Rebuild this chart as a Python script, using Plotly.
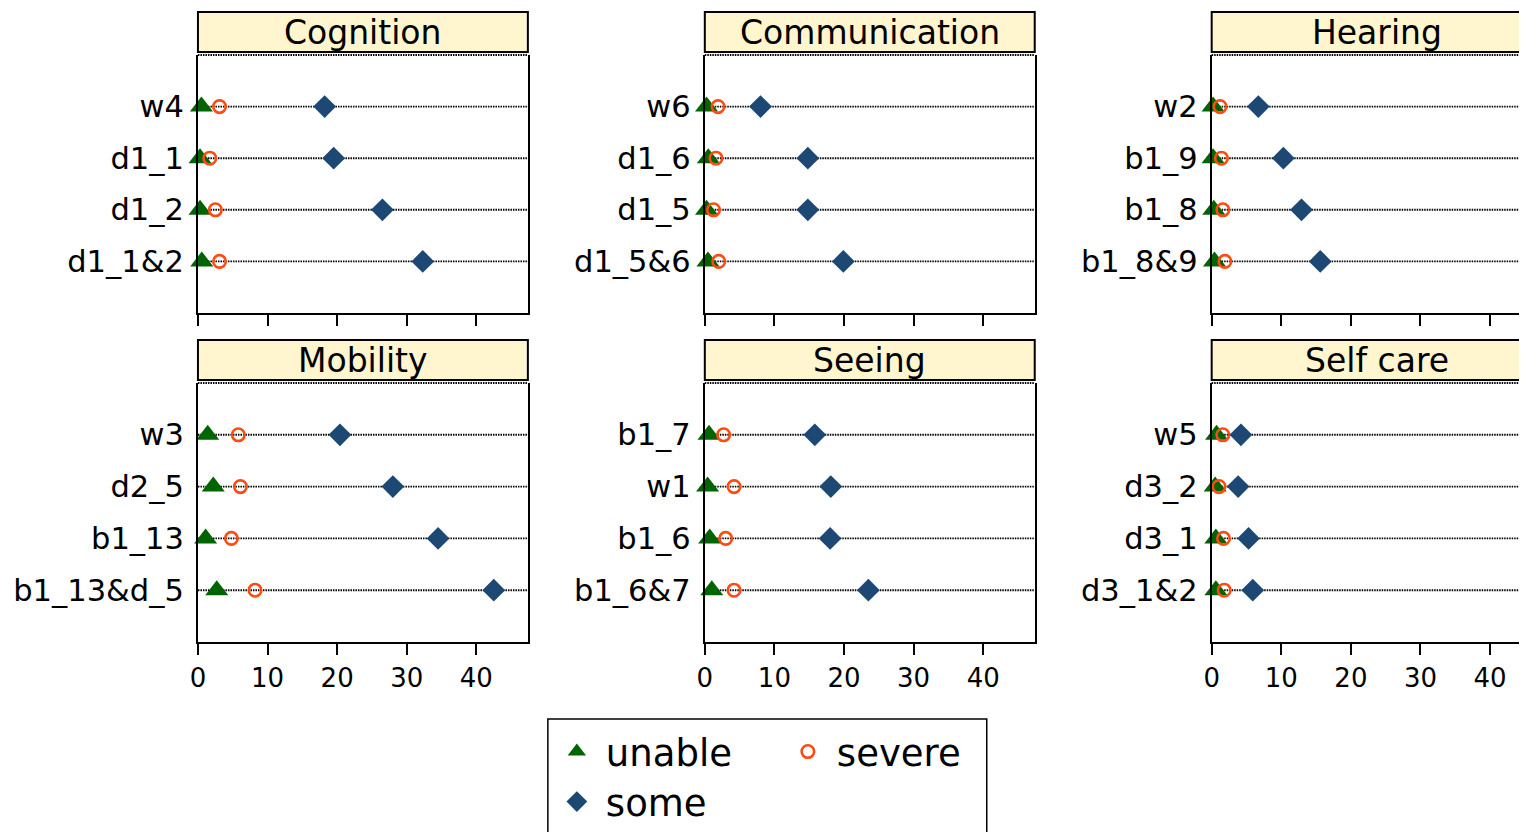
import plotly.graph_objects as go

# ---------------- data ----------------
panels = ["Cognition", "Communication", "Hearing", "Mobility", "Seeing", "Self care"]

labels_cognition = ["w4", "d1_1", "d1_2", "d1_1&2"]
labels_communication = ["w6", "d1_6", "d1_5", "d1_5&6"]
labels_hearing = ["w2", "b1_9", "b1_8", "b1_8&9"]
labels_mobility = ["w3", "d2_5", "b1_13", "b1_13&d_5"]
labels_seeing = ["b1_7", "w1", "b1_6", "b1_6&7"]
labels_selfcare = ["w5", "d3_2", "d3_1", "d3_1&2"]

unable_cognition = [0.5, 0.3, 0.3, 0.55]
severe_cognition = [3.1, 1.7, 2.5, 3.1]
some_cognition = [18.2, 19.5, 26.5, 32.3]

unable_communication = [0.25, 0.5, 0.25, 0.45]
severe_communication = [1.9, 1.6, 1.25, 2.0]
some_communication = [8.0, 14.8, 14.8, 19.9]

unable_hearing = [0.2, 0.2, 0.3, 0.4]
severe_hearing = [1.2, 1.4, 1.6, 1.9]
some_hearing = [6.7, 10.3, 12.9, 15.6]

unable_mobility = [1.4, 2.2, 1.1, 2.7]
severe_mobility = [5.8, 6.1, 4.8, 8.2]
some_mobility = [20.4, 28.0, 34.5, 42.5]

unable_seeing = [0.6, 0.4, 0.7, 1.0]
severe_seeing = [2.7, 4.2, 3.0, 4.2]
some_seeing = [15.8, 18.1, 18.0, 23.5]

unable_selfcare = [0.7, 0.5, 0.6, 0.6]
severe_selfcare = [1.6, 1.05, 1.7, 1.8]
some_selfcare = [4.2, 3.8, 5.3, 5.9]

x_ticks = [0, 10, 20, 30, 40]

panel_data = [
    (labels_cognition, unable_cognition, severe_cognition, some_cognition),
    (labels_communication, unable_communication, severe_communication, some_communication),
    (labels_hearing, unable_hearing, severe_hearing, some_hearing),
    (labels_mobility, unable_mobility, severe_mobility, some_mobility),
    (labels_seeing, unable_seeing, severe_seeing, some_seeing),
    (labels_selfcare, unable_selfcare, severe_selfcare, some_selfcare),
]

# ---------------- style / layout ----------------
W, H = 1520, 836
FONT = "DejaVu Sans, Verdana, sans-serif"
GREEN = "#006400"
ORANGE = "#FF4A10"
NAVY = "#1C4873"
STRIP = "#FFF5CF"

SX, BX = 0.995, 15.0
SY, BY = 1.0, 8.0


def px_x(R):
    return (R - BX) / SX


def px_y(R):
    return (R - BY) / SY


def fx(R):
    return px_x(R) / W


def fy(R):
    return 1 - px_y(R) / H


col_ref = [(197, 527), (704, 1034), (1211, 1541)]
row_ref = [(55, 313), (383, 642)]
XMAX = 47.4

fig = go.Figure()
shapes = []
annotations = []

for i, (labels, unable, severe, some) in enumerate(panel_data):
    r, c = divmod(i, 3)
    n = i + 1
    xa = "x" if n == 1 else f"x{n}"
    ya = "y" if n == 1 else f"y{n}"
    x0r, x1r = col_ref[c]
    y0r, y1r = row_ref[r]
    ypos = list(range(1, len(labels) + 1))
    show = (i == 0)

    fig.add_trace(go.Scatter(
        x=unable, y=ypos, mode="markers", name="unable", xaxis=xa, yaxis=ya,
        marker=dict(symbol="triangle-up", size=20, color=GREEN),
        showlegend=show, legend="legend", cliponaxis=False))
    fig.add_trace(go.Scatter(
        x=severe, y=ypos, mode="markers", name="severe", xaxis=xa, yaxis=ya,
        marker=dict(symbol="circle-open", size=12.5, color=ORANGE, line=dict(width=2.6, color=ORANGE)),
        showlegend=show, legend="legend", cliponaxis=False))
    fig.add_trace(go.Scatter(
        x=some, y=ypos, mode="markers", name="some", xaxis=xa, yaxis=ya,
        marker=dict(symbol="diamond", size=17.5, color=NAVY),
        showlegend=show, legend="legend2", cliponaxis=False))

    d0 = fx(x0r)
    d1 = min(1.0, fx(x1r))
    full = fx(x1r) - fx(x0r)
    xmax = XMAX * (d1 - d0) / full
    xkey = "xaxis" if n == 1 else f"xaxis{n}"
    ykey = "yaxis" if n == 1 else f"yaxis{n}"
    fig.layout[xkey] = dict(
        domain=[d0, d1], anchor=ya, range=[0, xmax],
        tickvals=x_ticks, ticks="outside", ticklen=11, tickwidth=2, tickcolor="black",
        showline=True, linecolor="black", linewidth=2, mirror=False,
        showgrid=False, zeroline=False, showticklabels=(r == 1),
        tickfont=dict(family=FONT, size=26, color="black"), ticklabelstandoff=1,
    )
    fig.layout[ykey] = dict(
        domain=[fy(y1r), fy(y0r)], anchor=xa, range=[len(labels) + 1, 0],
        tickvals=ypos, ticktext=labels, ticks="", showline=True, linecolor="black",
        linewidth=2, mirror=(c < 2), showgrid=False, zeroline=False,
        tickfont=dict(family=FONT, size=30.5, color="black"), ticklabelstandoff=6,
    )

    # dotted row lines
    for yv in ypos:
        shapes.append(dict(type="line", xref=f"{xa} domain", yref=ya, x0=0, x1=1, y0=yv, y1=yv,
                           line=dict(color="black", width=1.9, dash="1.5px,1px"), layer="below"))
    # dotted line at top of plot area
    shapes.append(dict(type="line", xref=f"{xa} domain", yref=f"{ya} domain", x0=0, x1=1,
                       y0=1, y1=1, line=dict(color="black", width=1.9, dash="1.5px,1px")))
    # strip
    ph = y1r - y0r
    sy0 = 1 + 3.0 / ph
    sy1 = 1 + 43.0 / ph
    sx1 = 1.05 if c == 2 else 1
    shapes.append(dict(type="rect", xref=f"{xa} domain", yref=f"{ya} domain",
                       x0=0, x1=sx1, y0=sy0, y1=sy1, fillcolor=STRIP,
                       line=dict(color="black", width=2)))
    annotations.append(dict(text=panels[i], xref="paper", yref=f"{ya} domain",
                            x=fx((x0r + x1r) / 2.0), y=(sy0 + sy1) / 2,
                            xanchor="center", yanchor="middle", showarrow=False,
                            font=dict(family=FONT, size=33, color="black")))

# legend box
shapes.append(dict(type="rect", xref="paper", yref="paper",
                   x0=fx(547), x1=fx(986), y0=-0.05, y1=fy(719),
                   line=dict(color="black", width=1.5), fillcolor="rgba(0,0,0,0)"))

fig.update_layout(
    width=W, height=H, margin=dict(l=0, r=0, t=0, b=0),
    paper_bgcolor="white", plot_bgcolor="white",
    shapes=shapes, annotations=annotations,
    legend=dict(orientation="h", x=fx(547), y=fy(721), xanchor="left", yanchor="top",
                entrywidth=168, entrywidthmode="pixels", itemwidth=48,
                font=dict(family=FONT, size=37, color="black"), bgcolor="rgba(0,0,0,0)"),
    legend2=dict(orientation="h", x=fx(547), y=fy(771), xanchor="left", yanchor="top",
                 itemwidth=48,
                 font=dict(family=FONT, size=37, color="black"), bgcolor="rgba(0,0,0,0)"),
)

fig.write_html("out.html")
